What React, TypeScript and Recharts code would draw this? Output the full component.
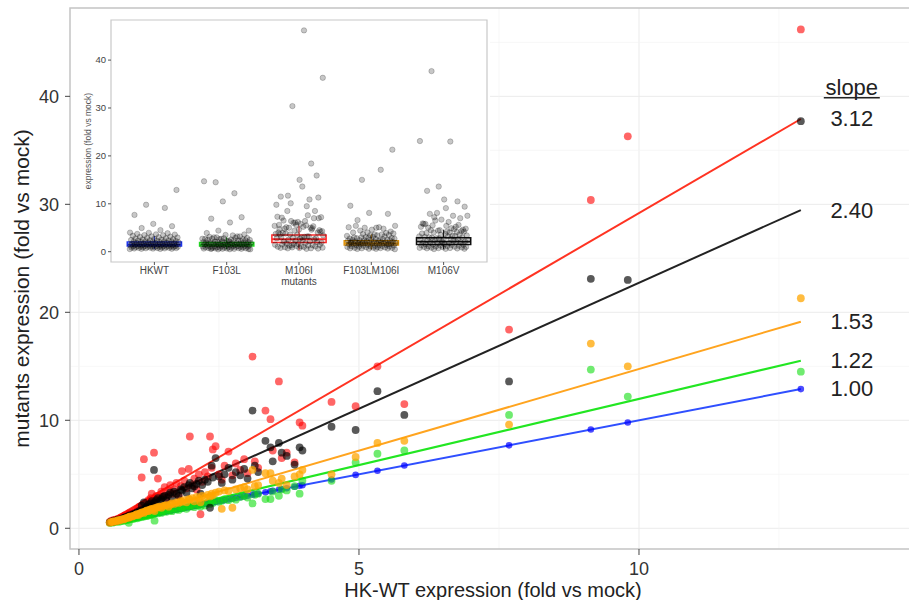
import { CartesianGrid, Label, ReferenceArea, ReferenceLine, Scatter, ScatterChart, XAxis, YAxis } from 'recharts';

const FONT = '"Liberation Sans", Arial, Helvetica, sans-serif';

// HK-WT expression per gene (x of the main plot), sorted
const hkwt = [
  0.55, 0.58, 0.6, 0.62, 0.65, 0.68, 0.7, 0.72, 0.75, 0.78,
  0.8, 0.82, 0.85, 0.88, 0.89, 0.9, 0.92, 0.95, 0.97, 1.0,
  1.02, 1.04, 1.06, 1.08, 1.1, 1.12, 1.14, 1.16, 1.18, 1.2,
  1.22, 1.24, 1.26, 1.28, 1.3, 1.32, 1.34, 1.35, 1.38, 1.41,
  1.44, 1.47, 1.5, 1.53, 1.56, 1.6, 1.63, 1.66, 1.7, 1.74,
  1.78, 1.82, 1.84, 1.88, 1.92, 1.96, 1.98, 2.02, 2.06, 2.1,
  2.14, 2.17, 2.2, 2.25, 2.3, 2.34, 2.37, 2.39, 2.44, 2.5,
  2.55, 2.6, 2.67, 2.74, 2.8, 2.88, 2.95, 3.01, 3.1, 3.14,
  3.2, 3.33, 3.42, 3.46, 3.57, 3.62, 3.71, 3.85, 3.94, 3.99,
  4.51, 4.94, 5.33, 5.81, 7.68, 9.14, 9.8, 12.89,
];

const f103l = [
  0.5, 0.55, 0.52, 0.58, 0.6, 0.62, 0.66, 0.6, 0.7, 0.72,
  0.68, 0.78, 0.75, 0.8, 0.5, 0.85, 0.88, 0.9, 0.86, 0.95,
  1.0, 0.92, 1.05, 1.0, 1.1, 1.05, 1.15, 1.08, 1.2, 1.12,
  1.25, 1.18, 1.3, 1.22, 1.35, 1.28, 1.4, 0.7, 1.45, 1.38,
  1.5, 1.42, 1.55, 1.6, 1.52, 1.7, 1.65, 1.58, 1.8, 1.75,
  1.7, 1.9, 1.85, 1.95, 1.8, 2.05, 2.0, 2.1, 1.95, 2.2,
  2.15, 2.0, 2.3, 2.1, 2.4, 2.25, 2.5, 2.35, 2.6, 2.45,
  2.55, 2.7, 2.6, 2.8, 2.65, 2.9, 3.0, 2.85, 2.3, 3.1,
  3.2, 2.7, 2.7, 3.4, 3.0, 3.6, 3.5, 3.9, 3.2, 4.4,
  4.4, 6.1, 6.9, 7.2, 10.5, 14.7, 12.2, 14.5,
];

const m106i = [
  0.6, 0.7, 0.65, 0.75, 0.8, 0.72, 0.9, 0.85, 1.0, 0.95,
  1.1, 1.2, 1.05, 1.3, 1.25, 1.4, 1.15, 1.5, 1.35, 1.6,
  1.45, 1.8, 1.7, 2.0, 1.6, 4.7, 2.2, 6.4, 1.9, 2.4,
  2.1, 2.6, 2.3, 2.8, 3.2, 2.5, 7.0, 2.7, 3.0, 4.6,
  2.9, 3.4, 3.1, 3.8, 2.8, 3.5, 4.0, 3.2, 3.6, 4.2,
  3.0, 3.9, 5.3, 4.4, 3.7, 5.5, 8.5, 4.0, 4.6, 3.6,
  5.0, 1.3, 4.3, 5.2, 4.8, 8.5, 5.6, 7.3, 7.6, 5.0,
  4.5, 5.8, 7.1, 4.9, 6.0, 5.4, 6.4, 5.1, 15.9, 6.2,
  5.6, 10.9, 10.1, 7.2, 13.6, 6.5, 7.0, 6.1, 9.8, 9.5,
  11.7, 11.3, 15.0, 11.5, 18.4, 30.4, 36.3, 46.2,
];

const f103lm106i = [
  0.52, 0.6, 0.58, 0.66, 0.62, 0.7, 0.75, 0.72, 0.8, 0.85,
  0.82, 0.9, 0.95, 1.0, 0.98, 1.05, 1.1, 1.08, 1.15, 1.2,
  1.25, 1.3, 1.22, 1.35, 1.4, 1.45, 1.5, 1.42, 1.55, 1.6,
  1.65, 1.58, 1.7, 1.75, 1.8, 1.72, 1.85, 1.6, 1.9, 1.95,
  2.0, 1.88, 2.05, 2.1, 2.15, 2.0, 2.2, 2.3, 2.25, 2.4,
  2.35, 2.5, 2.45, 2.6, 2.4, 2.7, 2.65, 2.8, 2.5, 2.9,
  2.75, 2.4, 3.0, 2.85, 3.1, 2.95, 3.2, 3.05, 3.3, 3.4,
  1.8, 3.5, 3.45, 1.9, 3.6, 3.7, 3.8, 3.6, 5.4, 3.9,
  4.0, 5.1, 5.1, 4.4, 4.2, 4.6, 4.0, 4.8, 5.0, 5.4,
  5.0, 6.6, 7.9, 8.1, 9.6, 17.1, 15.0, 21.3,
];

const m106v = [
  0.55, 0.62, 0.6, 0.7, 0.68, 0.75, 0.8, 0.78, 0.85, 0.9,
  0.95, 1.0, 1.05, 1.1, 1.0, 1.2, 1.15, 1.25, 1.3, 1.35,
  1.4, 1.5, 1.45, 1.6, 1.55, 2.1, 1.7, 2.4, 1.8, 1.9,
  2.0, 2.2, 1.95, 2.3, 2.5, 2.1, 5.4, 2.4, 2.6, 2.8,
  2.5, 2.7, 2.9, 3.0, 2.6, 3.1, 3.3, 2.8, 3.4, 3.2,
  3.0, 3.6, 3.5, 3.8, 3.3, 4.0, 4.2, 3.7, 3.9, 4.1,
  4.4, 3.2, 4.0, 4.5, 4.3, 1.9, 5.8, 4.7, 6.5, 4.8,
  4.2, 5.0, 5.6, 4.5, 5.2, 4.9, 5.5, 4.6, 10.9, 5.8,
  5.2, 8.1, 7.5, 6.2, 7.9, 7.0, 6.7, 5.9, 7.5, 7.2,
  9.4, 9.1, 12.7, 10.5, 13.6, 23.1, 23.0, 37.7,
];

// fitted lines: start / end points
const fitX = [0.55, 12.89];
const fitRed = [0.7, 37.9];
const fitBlack = [0.7, 29.47];
const fitOrange = [0.45, 19.13];
const fitGreen = [0.4, 15.52];
const fitBlue = [0.55, 12.89];

const slopeText = ['3.12', '2.40', '1.53', '1.22', '1.00'];
const slopeY = [37.96, 29.4, 19.13, 15.52, 12.96];
const slopeHeadY = 40.8;
const slopeX = 13.8;

// inset
const groups = ['HKWT', 'F103L', 'M106I', 'F103LM106I', 'M106V'];
const groupColors = ['#1f36f0', '#22d622', '#ff2a2a', '#e0940c', '#111111'];
const boxQ1 = [1.2, 1.2, 1.9, 1.4, 1.5];
const boxMed = [1.5, 1.5, 2.6, 1.8, 2.1];
const boxQ3 = [2.0, 1.9, 3.5, 2.3, 2.9];
const whiskLo = [0.55, 0.5, 0.35, 0.5, 0.55];
const whiskHi = [3.2, 3.0, 5.4, 3.6, 4.6];

const X_DOMAIN: [number, number] = [-0.16, 14.875];
const Y_DOMAIN: [number, number] = [-1.92, 48.18];
const xTicks = [0, 5, 10];
const yTicks = [0, 10, 20, 30, 40];
const xMinor = [2.5, 7.5, 12.5];
const yMinor = [5, 15, 25, 35, 45];

const pts = (ys: number[]) => hkwt.map((x, i) => ({ x, y: ys[i] }));
const fit = (ys: number[]) => fitX.map((x, i) => ({ x, y: ys[i] }));

// spread points across the box width (position only)
const jitter = (i: number) => (((i * 0.6180339887) % 1) - 0.5) * 0.68;
const insetSets = [hkwt, f103l, m106i, f103lm106i, m106v];

function dot(fill: string, opacity: number, r = 3.9) {
  return (p: any) => <circle cx={p.cx} cy={p.cy} r={r} fill={fill} fillOpacity={opacity} />;
}

const noShape = () => <g />;

export default function App() {
  return (
    <div style={{ position: 'absolute', left: 0, top: 0, width: 909, height: 600, overflow: 'hidden', background: '#fff', fontFamily: FONT }}>
      <ScatterChart width={912} height={600} margin={{ top: 8, right: 0, bottom: 0, left: 0 }} style={{ fontFamily: FONT }}>
        <CartesianGrid stroke="#ebebeb" strokeWidth={1} horizontalValues={yTicks} verticalValues={xTicks} />
        <CartesianGrid stroke="#f4f4f4" strokeWidth={0.7} horizontalValues={yMinor} verticalValues={xMinor} />
        <XAxis
          type="number"
          dataKey="x"
          domain={X_DOMAIN}
          ticks={xTicks}
          interval={0}
          allowDataOverflow
          axisLine={false}
          tickSize={6}
          tickMargin={7}
          tickLine={{ stroke: '#444' }}
          tick={{ fontSize: 18, fill: '#333' }}
          height={51}
        >
          <Label
            content={(p: any) => (
              <text x={p.viewBox.x + p.viewBox.width / 2 + 2} y={p.viewBox.y + 41} textAnchor="middle" dominantBaseline="central" fontSize={20} fill="#222">
                HK-WT expression (fold vs mock)
              </text>
            )}
          />
        </XAxis>
        <YAxis
          type="number"
          dataKey="y"
          domain={Y_DOMAIN}
          ticks={yTicks}
          interval={0}
          allowDataOverflow
          axisLine={false}
          tickSize={5}
          tickMargin={6}
          tickLine={{ stroke: '#444' }}
          tick={{ fontSize: 18, fill: '#333' }}
          width={70}
        >
          <Label
            content={(p: any) => {
              const cx = p.viewBox.x + 21;
              const cy = p.viewBox.y + p.viewBox.height / 2 + 10;
              return (
                <text x={cx} y={cy} transform={`rotate(-90 ${cx} ${cy})`} textAnchor="middle" dominantBaseline="central" fontSize={21} fill="#222">
                  mutants expression (fold vs mock)
                </text>
              );
            }}
          />
        </YAxis>
        <ReferenceArea x1={X_DOMAIN[0]} x2={X_DOMAIN[1]} y1={Y_DOMAIN[0]} y2={Y_DOMAIN[1]} fill="none" stroke="#c4c4c4" strokeWidth={1.5} ifOverflow="visible" />

        <Scatter data={fit(fitBlue)} line={{ stroke: '#2f4fff', strokeWidth: 2 }} shape={noShape} isAnimationActive={false} />
        <Scatter data={fit(fitGreen)} line={{ stroke: '#22e622', strokeWidth: 2 }} shape={noShape} isAnimationActive={false} />
        <Scatter data={fit(fitOrange)} line={{ stroke: '#ffa41f', strokeWidth: 2 }} shape={noShape} isAnimationActive={false} />
        <Scatter data={fit(fitBlack)} line={{ stroke: '#222222', strokeWidth: 2 }} shape={noShape} isAnimationActive={false} />
        <Scatter data={fit(fitRed)} line={{ stroke: '#ff3322', strokeWidth: 2 }} shape={noShape} isAnimationActive={false} />

        <Scatter data={hkwt.map((x) => ({ x, y: x }))} shape={dot('#0000ff', 0.7, 3.3)} isAnimationActive={false} />
        <Scatter data={pts(f103l)} shape={dot('#11dd11', 0.6)} isAnimationActive={false} />
        <Scatter data={pts(m106i)} shape={dot('#ff0000', 0.6)} isAnimationActive={false} />
        <Scatter data={pts(m106v)} shape={dot('#000000', 0.65)} isAnimationActive={false} />
        <Scatter data={pts(f103lm106i)} shape={dot('#ffa500', 0.75)} isAnimationActive={false} />

        <Scatter
          data={slopeText.map((t, i) => ({ x: slopeX, y: slopeY[i], t }))}
          shape={(p: any) => (
            <text x={p.cx} y={p.cy} textAnchor="middle" dominantBaseline="central" fontSize={22} fill="#222">
              {p.payload.t}
            </text>
          )}
          isAnimationActive={false}
        />
        <Scatter
          data={[{ x: slopeX, y: slopeHeadY }]}
          shape={(p: any) => (
            <g>
              <text x={p.cx} y={p.cy} textAnchor="middle" dominantBaseline="central" fontSize={22} fill="#222">
                slope
              </text>
              <line x1={p.cx - 28} x2={p.cx + 28} y1={p.cy + 10} y2={p.cy + 10} stroke="#222" strokeWidth={1.6} />
            </g>
          )}
          isAnimationActive={false}
        />
      </ScatterChart>

      <div style={{ position: 'absolute', left: 71, top: 9, width: 419, height: 281, background: '#fff' }}>
        <ScatterChart width={419} height={281} margin={{ top: 11, right: 3, bottom: 0, left: 0 }} style={{ fontFamily: FONT }}>
          <XAxis
            type="number"
            dataKey="x"
            domain={[0.4, 5.6]}
            ticks={[1, 2, 3, 4, 5]}
            interval={0}
            tickFormatter={(v: number) => groups[v - 1]}
            allowDataOverflow
            axisLine={false}
            tickSize={3}
            tickMargin={2}
            tickLine={{ stroke: '#555' }}
            tick={{ fontSize: 10, fill: '#444' }}
            height={28}
          >
            <Label
              content={(p: any) => (
                <text x={p.viewBox.x + p.viewBox.width / 2} y={p.viewBox.y + 19.5} textAnchor="middle" dominantBaseline="central" fontSize={10} fill="#444">
                  mutants
                </text>
              )}
            />
          </XAxis>
          <YAxis
            type="number"
            dataKey="y"
            domain={[-2.15, 48.37]}
            ticks={[0, 10, 20, 30, 40]}
            interval={0}
            allowDataOverflow
            axisLine={false}
            tickSize={3}
            tickMargin={2}
            tickLine={{ stroke: '#555' }}
            tick={{ fontSize: 9.5, fill: '#444' }}
            width={40}
          >
            <Label
              content={(p: any) => {
                const cx = p.viewBox.x + 17;
                const cy = p.viewBox.y + p.viewBox.height / 2;
                return (
                  <text x={cx} y={cy} transform={`rotate(-90 ${cx} ${cy})`} textAnchor="middle" dominantBaseline="central" fontSize={8.5} fill="#555">
                    expression (fold vs mock)
                  </text>
                );
              }}
            />
          </YAxis>
          <ReferenceArea x1={0.4} x2={5.6} y1={-2.15} y2={48.37} fill="none" stroke="#c8c8c8" strokeWidth={1.2} ifOverflow="visible" />
          {insetSets.map((vals, k) => (
            <Scatter
              key={groups[k]}
              data={vals.map((v, i) => ({ x: k + 1 + jitter(i + k * 7), y: v }))}
              shape={(p: any) => (
                <circle cx={p.cx} cy={p.cy} r={2.7} fill="#000" fillOpacity={0.22} stroke="#000" strokeOpacity={0.3} strokeWidth={0.7} />
              )}
              isAnimationActive={false}
            />
          ))}
          {groups.map((g, k) => (
            <ReferenceArea
              key={`box-${g}`}
              x1={k + 1 - 0.375}
              x2={k + 1 + 0.375}
              y1={boxQ1[k]}
              y2={boxQ3[k]}
              fill="none"
              fillOpacity={0}
              stroke={groupColors[k]}
              strokeWidth={1.5}
              strokeOpacity={1}
            />
          ))}
          {groups.map((g, k) => (
            <ReferenceLine key={`med-${g}`} segment={[{ x: k + 1 - 0.375, y: boxMed[k] }, { x: k + 1 + 0.375, y: boxMed[k] }]} stroke={groupColors[k]} strokeWidth={1.8} />
          ))}
          {groups.map((g, k) => (
            <ReferenceLine key={`wh-${g}`} segment={[{ x: k + 1, y: boxQ3[k] }, { x: k + 1, y: whiskHi[k] }]} stroke={groupColors[k]} strokeWidth={1} />
          ))}
          {groups.map((g, k) => (
            <ReferenceLine key={`wl-${g}`} segment={[{ x: k + 1, y: whiskLo[k] }, { x: k + 1, y: boxQ1[k] }]} stroke={groupColors[k]} strokeWidth={1} />
          ))}
        </ScatterChart>
      </div>
    </div>
  );
}
